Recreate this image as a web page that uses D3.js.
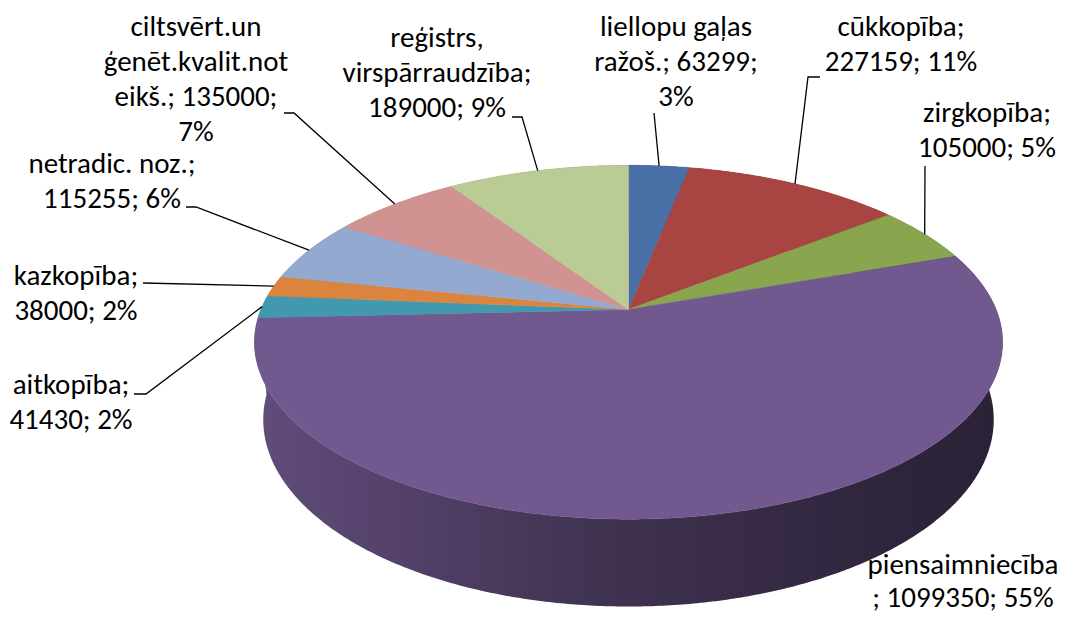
<!DOCTYPE html>
<html>
<head>
<meta charset="utf-8">
<script src="https://cdn.jsdelivr.net/npm/d3@7"></script>
<style>
body { margin: 0; background: #fff; }
svg { display: block; }
</style>
</head>
<body>
<div id="chart-area"></div>
<script>
// dati
const categories = ["liellopu gaļas ražoš.", "cūkkopība", "zirgkopība", "piensaimniecība", "aitkopība",
    "kazkopība", "netradic. noz.", "ciltsvērt.un ģenēt.kvalit.noteikš.", "reģistrs, virspārraudzība"]
const values = [63299, 227159, 105000, 1099350, 41430, 38000, 115255, 135000, 189000]
const labelLines = [
    ["liellopu gaļas", "ražoš.; 63299;", "3%"],
    ["cūkkopība;", "227159; 11%"],
    ["zirgkopība;", "105000; 5%"],
    ["piensaimniecība", "; 1099350; 55%"],
    ["aitkopība;", "41430; 2%"],
    ["kazkopība;", "38000; 2%"],
    ["netradic. noz.;", "115255; 6%"],
    ["ciltsvērt.un", "ģenēt.kvalit.not", "eikš.; 135000;", "7%"],
    ["reģistrs,", "virspārraudzība;", "189000; 9%"]
]
const colors = ["#4a6fa6", "#a84542", "#89a54e", "#71588f", "#4298ae",
    "#da843e", "#93a9cf", "#d19392", "#bacb96"]

// label placement (center x, first baseline, line gap, leader start / elbow)
const labelPos = [
    { x: 676, y: 35.5, from: [654, 113] },
    { x: 901, y: 35.5, from: [820, 77], elbow: [808, 77] },
    { x: 987, y: 122, from: [925, 166] },
    { x: 963, y: 574, gap: 33 },
    { x: 71, y: 394, from: [134, 394], elbow: [146, 394] },
    { x: 76, y: 285, from: [143, 283] },
    { x: 112, y: 173, from: [186, 207], elbow: [196, 207] },
    { x: 196, y: 36, from: [284, 113], elbow: [294, 113] },
    { x: 437, y: 47, from: [512, 117], elbow: [522, 117] }
]

const W = 1066, H = 619
const svg = d3.select("#chart-area").append("svg")
    .attr("width", W)
    .attr("height", H)

// 3d perspektīva
const CX = 628.5, CY = 309.5
const F = 1759, DIST = 4.785
const TILT = 27.7 * Math.PI / 180
const THICK = 0.24
const sinA = Math.sin(TILT), cosA = Math.cos(TILT)

function project(theta, v) {
    const x = Math.sin(theta)
    const zf = -Math.cos(theta)
    const depth = DIST - zf * cosA + v * sinA
    return [CX + F * x / depth, CY + F * (zf * sinA + v * cosA) / depth]
}

function arcPoints(a0, a1, v) {
    const n = Math.max(2, Math.ceil(Math.abs(a1 - a0) / (Math.PI / 360)))
    return d3.range(n + 1).map(i => project(a0 + (a1 - a0) * i / n, v))
}

const pie = d3.pie().sort(null).startAngle(0).endAngle(2 * Math.PI)
const arcs = pie(values)

const defs = svg.append("defs")
arcs.forEach((d, i) => {
    const c = d3.color(colors[i])
    const g = defs.append("linearGradient")
        .attr("id", `side${i}`)
        .attr("gradientUnits", "userSpaceOnUse")
        .attr("x1", 254).attr("x2", 1003)
        .attr("y1", 0).attr("y2", 0)
    const stops = [[0, 0.42], [0.45, 1.55], [0.86, 2.5], [1, 2.7]]
    stops.forEach(s => {
        g.append("stop").attr("offset", s[0]).attr("stop-color", c.darker(s[1]).formatHex())
    })
})

const line = d3.line()
const pieG = svg.append("g").attr("class", "pie")

// sāni
pieG.selectAll("path.side")
    .data(arcs)
    .enter()
    .append("path")
        .attr("class", "side")
        .attr("fill", (d, i) => `url(#side${i})`)
        .attr("d", d => {
            const top = arcPoints(d.startAngle, d.endAngle, 0)
            const bottom = arcPoints(d.endAngle, d.startAngle, THICK)
            return line(top.concat(bottom)) + "Z"
        })

// virsma
pieG.selectAll("path.top")
    .data(arcs)
    .enter()
    .append("path")
        .attr("class", "top")
        .attr("fill", (d, i) => colors[i])
        .attr("stroke", (d, i) => colors[i])
        .attr("stroke-width", 0.5)
        .attr("d", d => line([[CX, CY]].concat(arcPoints(d.startAngle, d.endAngle, 0))) + "Z")

// fonta izmērs pēc platuma
const FONT = "Carlito, Lato, 'Open Sans', sans-serif"
const probe = svg.append("text")
    .style("font-family", FONT)
    .style("font-size", "100px")
    .text("piensaimniecība")
const fontSize = 191 / probe.node().getComputedTextLength() * 100
probe.remove()

// līnijas
const leaders = svg.append("g").attr("class", "leaders")
arcs.forEach((d, i) => {
    const p = labelPos[i]
    if (!p.from) return
    const end = project((d.startAngle + d.endAngle) / 2, 0)
    const pts = [p.from]
    if (p.elbow) pts.push(p.elbow)
    pts.push(end)
    leaders.append("path")
        .attr("d", line(pts))
        .attr("fill", "none")
        .attr("stroke", "#000")
        .attr("stroke-width", 1.3)
})

// etiķetes
const labels = svg.append("g").attr("class", "labels")
labelLines.forEach((lines, i) => {
    const p = labelPos[i]
    const gap = p.gap || 35
    const t = labels.append("text")
        .attr("text-anchor", "middle")
        .style("font-family", FONT)
        .style("font-size", `${fontSize}px`)
        .attr("fill", "#000")
    lines.forEach((s, j) => {
        t.append("tspan")
            .attr("x", p.x)
            .attr("y", p.y + j * gap)
            .text(s)
    })
})
</script>
</body>
</html>
